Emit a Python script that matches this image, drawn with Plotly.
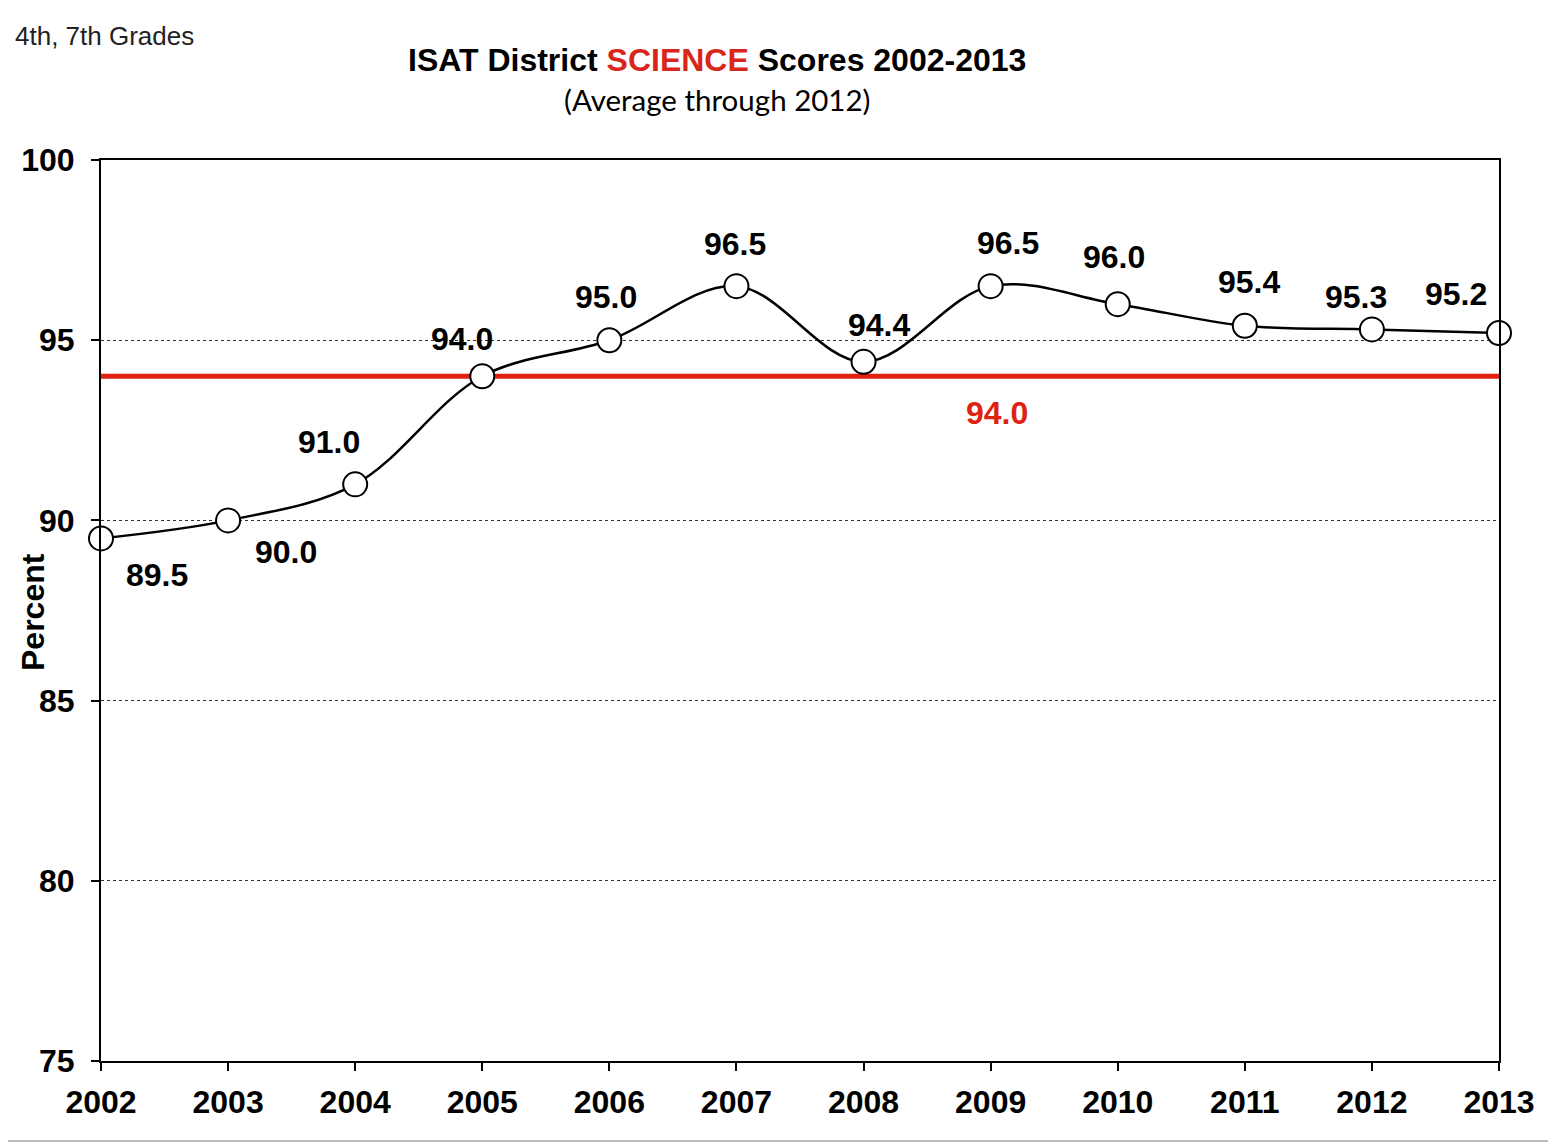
import plotly.graph_objects as go

years = [2002, 2003, 2004, 2005, 2006, 2007, 2008, 2009, 2010, 2011, 2012, 2013]
scores = [89.5, 90.0, 91.0, 94.0, 95.0, 96.5, 94.4, 96.5, 96.0, 95.4, 95.3, 95.2]
score_labels = ["89.5", "90.0", "91.0", "94.0", "95.0", "96.5", "94.4", "96.5", "96.0", "95.4", "95.3", "95.2"]
average = 94.0
average_label = "94.0"
y_ticks = [75, 80, 85, 90, 95, 100]

# label offsets (pixels) relative to each point
label_dx = [56, 58, -26, -20, -3, -1, 15, 17, -4, 4, -16, -43]
label_dy = [-37, -32, 42, 37, 43, 42, 37, 43, 47, 44, 32, 39]

OFF = 8  # default page body margin
W, H = 1556 - OFF, 1144 - OFF
ML, MT = 101 - OFF, 160 - OFF
PW, PH = 1499 - 101, 1061 - 160
MR, MB = W - ML - PW, H - MT - PH

def px(x):
    return (x - OFF - ML) / PW

def py(y):
    return (MT + PH - (y - OFF)) / PH

FONT = "Liberation Sans, Arial, sans-serif"
FS = 32

fig = go.Figure()

fig.add_trace(go.Scatter(
    x=[years[0], years[-1]], y=[average, average], mode="lines",
    line=dict(color="#e0200f", width=5), hoverinfo="skip", showlegend=False,
))

fig.add_trace(go.Scatter(
    x=years, y=scores, mode="lines+markers",
    line=dict(color="black", width=2.5, shape="spline", smoothing=1.0),
    marker=dict(size=24, color="white", line=dict(color="black", width=2)),
    cliponaxis=False, showlegend=False,
))

annotations = []
for x, y, t, dx, dy in zip(years, scores, score_labels, label_dx, label_dy):
    annotations.append(dict(
        x=x, y=y, xref="x", yref="y", text=t, showarrow=False,
        xanchor="center", yanchor="middle", xshift=dx, yshift=dy,
        font=dict(family=FONT, size=FS, color="black", weight="bold"),
    ))

annotations.append(dict(
    x=px(997), y=average, xref="paper", yref="y", text=average_label, showarrow=False,
    xanchor="center", yanchor="middle", yshift=-37,
    font=dict(family=FONT, size=FS, color="#dd2211", weight="bold"),
))

annotations.append(dict(
    x=px(717), y=py(60), xref="paper", yref="paper", xanchor="center", yanchor="middle",
    text="ISAT District <span style='color:#d9261c'>SCIENCE</span> Scores 2002-2013",
    showarrow=False, font=dict(family=FONT, size=FS, color="black", weight="bold"),
))
annotations.append(dict(
    x=px(717), y=py(100), xref="paper", yref="paper", xanchor="center", yanchor="middle",
    text="(Average through 2012)", showarrow=False,
    font=dict(family="Lato, Open Sans, sans-serif", size=29.5, color="black"),
))
annotations.append(dict(
    x=px(13), y=py(36), xref="paper", yref="paper", xanchor="left", yanchor="middle",
    text="4th, 7th Grades", showarrow=False,
    font=dict(family=FONT, size=26, color="#222"),
))
annotations.append(dict(
    x=px(33), y=py(612), xref="paper", yref="paper", textangle=-90,
    xanchor="center", yanchor="middle",
    text="Percent", showarrow=False,
    font=dict(family=FONT, size=FS, color="black", weight="bold"),
))

shapes = [
    dict(type="line", xref="paper", yref="paper", x0=px(1552), x1=px(1552), y0=py(OFF), y1=py(1141),
         line=dict(color="#999", width=2)),
    dict(type="line", xref="paper", yref="paper", x0=px(OFF), x1=px(1552), y0=py(1141), y1=py(1141),
         line=dict(color="#bbb", width=2)),
]

fig.update_layout(
    width=W, height=H,
    margin=dict(l=ML, r=MR, t=MT, b=MB),
    paper_bgcolor="white", plot_bgcolor="white",
    annotations=annotations, shapes=shapes,
    xaxis=dict(
        range=[years[0], years[-1]], tickvals=years, ticktext=[str(y) for y in years],
        showgrid=False, zeroline=False, showline=True, linecolor="black", linewidth=2,
        mirror=True, ticks="outside", ticklen=8, tickwidth=1.5, tickcolor="black",
        ticklabelstandoff=4,
        tickfont=dict(family=FONT, size=FS, color="black", weight="bold"),
    ),
    yaxis=dict(
        range=[y_ticks[0], y_ticks[-1]], tickvals=y_ticks,
        showgrid=True, gridcolor="#333", gridwidth=1, griddash="dot",
        zeroline=False, showline=True, linecolor="black", linewidth=2,
        mirror=True, ticks="outside", ticklen=8, tickwidth=1.5, tickcolor="black",
        ticklabelstandoff=10,
        tickfont=dict(family=FONT, size=FS, color="black", weight="bold"),
    ),
)

fig.write_html("out.html")
